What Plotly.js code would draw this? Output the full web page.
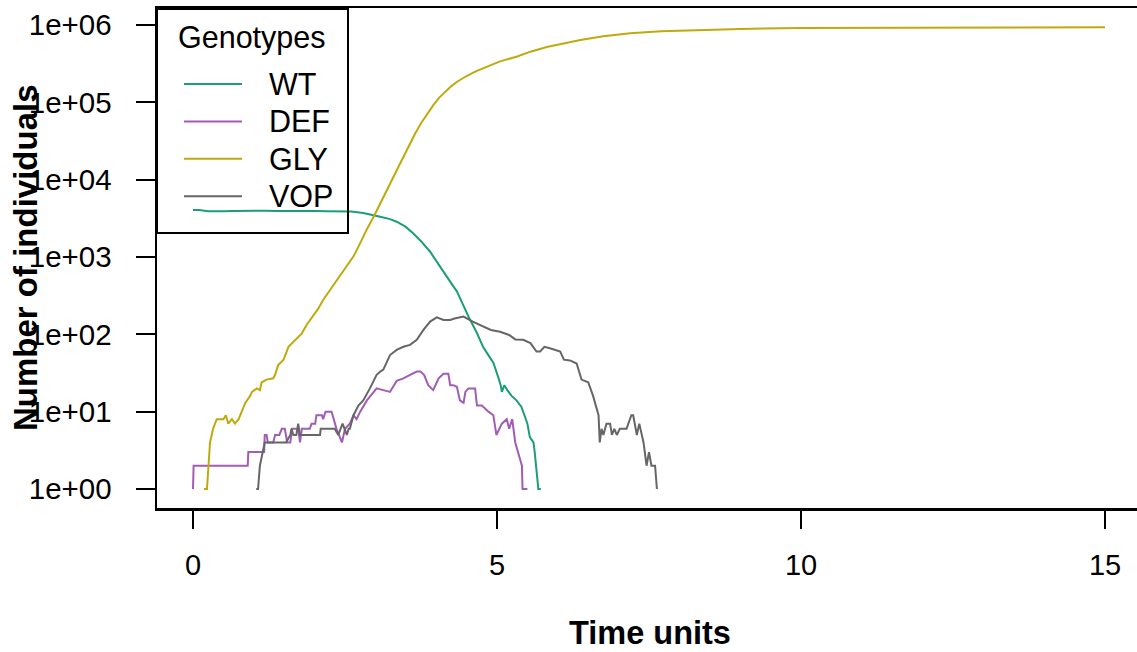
<!DOCTYPE html>
<html>
<head>
<meta charset="utf-8">
<script src="https://cdn.plot.ly/plotly-3.0.1.min.js"></script>
<style>html,body{margin:0;padding:0;background:#fff;}#chart{width:1137px;height:652px;}</style>
</head>
<body>
<div id="chart"></div>
<script>
// ---- Data ----
const genotypes = ['WT', 'DEF', 'GLY', 'VOP'];
const genotypeColors = ['#1B9E77', '#A15CB6', '#BFAA0E', '#666666'];

const wtTime = [0, 0.1, 0.25, 0.4, 0.5, 0.65, 0.8, 1.0, 1.2, 1.4, 1.6, 1.8, 2.0, 2.2, 2.4, 2.6, 2.8, 2.95, 3.08, 3.24, 3.35, 3.5, 3.62, 3.75, 3.9, 4.05, 4.17, 4.28, 4.34, 4.39, 4.46, 4.53, 4.6, 4.67, 4.72, 4.77, 4.85, 4.94, 5.02, 5.06, 5.08, 5.12, 5.17, 5.24, 5.32, 5.4, 5.46, 5.5, 5.54, 5.6, 5.62, 5.64, 5.68, 5.72];
const wtCount = [4050, 4060, 3900, 3870, 3900, 3930, 3950, 3940, 3960, 3930, 3950, 3920, 3940, 3910, 3890, 3870, 3700, 3530, 3320, 3090, 2860, 2450, 2030, 1600, 1170, 780, 556, 420, 360, 290, 225, 170, 135, 104, 85, 69, 55, 43, 28, 22, 18, 22, 19, 16, 14, 11.6, 8.6, 7, 4.7, 4, 3, 2, 1, 1];

const defTime = [0, 0.01, 0.9, 0.91, 1.17, 1.18, 1.21, 1.23, 1.32, 1.35, 1.42, 1.46, 1.51, 1.55, 1.6, 1.63, 1.73, 1.76, 1.79, 1.92, 1.95, 2.01, 2.03, 2.12, 2.14, 2.18, 2.28, 2.32, 2.36, 2.45, 2.5, 2.58, 2.64, 2.69, 2.75, 2.86, 2.94, 3.02, 3.13, 3.24, 3.35, 3.46, 3.57, 3.68, 3.74, 3.8, 3.87, 3.95, 4.04, 4.12, 4.2, 4.23, 4.28, 4.34, 4.39, 4.45, 4.48, 4.53, 4.64, 4.67, 4.75, 4.8, 4.86, 4.94, 4.99, 5.08, 5.16, 5.2, 5.25, 5.3, 5.35, 5.41, 5.42, 5.5];
const defCount = [1, 2, 2, 3, 3, 5, 5, 4, 4, 5, 5, 6, 6, 4, 4, 6, 6, 4, 6, 6, 7, 7, 9, 9, 8, 10, 10, 8, 6, 4, 6, 7, 9, 8, 10, 14, 17, 20, 19, 18, 25, 27, 30, 33, 33, 30, 22, 19, 27, 31, 31, 22, 22, 21, 14, 13, 18, 20, 20, 12, 12, 11, 10, 9, 5, 7, 8, 6, 8, 4, 3, 2, 1, 1];

const glyTime = [0.18, 0.23, 0.28, 0.33, 0.39, 0.45, 0.5, 0.54, 0.58, 0.64, 0.69, 0.75, 0.8, 0.86, 0.94, 0.97, 1.05, 1.1, 1.13, 1.21, 1.32, 1.35, 1.4, 1.49, 1.57, 1.65, 1.72, 1.79, 1.87, 1.98, 2.06, 2.14, 2.3, 2.45, 2.64, 2.75, 2.86, 2.99, 3.08, 3.19, 3.3, 3.4, 3.5, 3.58, 3.65, 3.75, 3.85, 3.95, 4.05, 4.15, 4.25, 4.35, 4.5, 4.65, 4.83, 5.05, 5.32, 5.55, 5.82, 6.1, 6.37, 6.75, 7.19, 7.7, 8.28, 9, 10, 12, 15];
const glyCount = [1, 1, 4, 6, 8, 8, 8, 9, 7, 8, 7, 8, 10, 13, 16, 18, 20, 19, 24, 26, 27, 30, 40, 47, 69, 80, 90, 103, 133, 178, 215, 278, 420, 615, 1020, 1510, 2290, 3550, 5000, 7400, 11000, 15800, 22900, 30200, 38900, 53700, 70800, 91200, 115000, 138000, 162000, 186000, 219000, 251000, 288000, 339000, 389000, 452000, 519000, 582000, 640000, 716000, 782000, 832000, 863000, 891000, 912000, 927000, 933000];

const vopTime = [1.04, 1.07, 1.1, 1.15, 1.18, 1.53, 1.6, 1.62, 1.65, 1.7, 1.73, 1.76, 2.09, 2.1, 2.33, 2.39, 2.46, 2.53, 2.56, 2.58, 2.64, 2.72, 2.8, 2.91, 3.02, 3.08, 3.13, 3.24, 3.35, 3.46, 3.57, 3.68, 3.79, 3.9, 4.01, 4.12, 4.23, 4.3, 4.4, 4.45, 4.6, 4.77, 4.9, 5.05, 5.2, 5.3, 5.43, 5.55, 5.65, 5.71, 5.78, 5.87, 6.04, 6.1, 6.2, 6.31, 6.35, 6.39, 6.5, 6.58, 6.67, 6.69, 6.72, 6.75, 6.8, 6.86, 6.89, 6.93, 6.97, 7.02, 7.13, 7.21, 7.24, 7.27, 7.3, 7.34, 7.41, 7.46, 7.5, 7.54, 7.6, 7.63];
const vopCount = [1, 1, 2, 3, 4, 4, 5, 6, 5, 5, 7, 5, 5, 6, 6, 5, 7, 5, 6, 6, 9, 12, 14, 20, 30, 33, 35, 54, 63, 69, 73, 85, 114, 146, 166, 153, 153, 160, 168, 170, 146, 126, 114, 108, 98, 86, 85, 77, 60, 60, 69, 66, 60, 47, 46, 42, 33, 26, 24, 16, 9, 4, 6, 5, 7, 7, 5, 6, 5, 6, 6, 9, 9, 7, 5, 7, 4, 2, 3, 2, 2, 1];

const xTickVals = [0, 5, 10, 15];
const yTickVals = [1, 10, 100, 1000, 10000, 100000, 1000000];
const yTickText = ['1e+00', '1e+01', '1e+02', '1e+03', '1e+04', '1e+05', '1e+06'];
const xTitle = 'Time units';
const yTitle = 'Number of individuals';
const legendTitle = 'Genotypes';

// ---- Layout geometry ----
const W = 1137, H = 652;
const M = {l: 157, r: 0, t: 8, b: 144};
const plotW = W - M.l - M.r, plotH = H - M.t - M.b;
const px2x = p => (p - M.l) / plotW;
const py2y = p => (H - M.b - p) / plotH;
const FONT = 'Liberation Sans, Arial, Helvetica, sans-serif';

const seriesT = [wtTime, defTime, glyTime, vopTime];
const seriesV = [wtCount, defCount, glyCount, vopCount];
const traces = genotypes.map((g, i) => ({
  x: seriesT[i], y: seriesV[i], name: g, type: 'scatter', mode: 'lines',
  line: {color: genotypeColors[i], width: 2}, showlegend: false
}));

// Manual R-style legend
const shapes = [{
  type: 'rect', xref: 'paper', yref: 'paper',
  x0: px2x(157), x1: px2x(348), y0: py2y(233), y1: py2y(9),
  line: {color: 'black', width: 2}, fillcolor: 'rgba(255,255,255,0)'
}];
const annotations = [{
  xref: 'paper', yref: 'paper', x: px2x(252), y: py2y(37), text: legendTitle,
  showarrow: false, xanchor: 'center', yanchor: 'middle', font: {family: FONT, size: 30.5, color: 'black'}
}];
genotypes.forEach((g, i) => {
  const yy = 84 + 37.4 * i;
  shapes.push({type: 'line', xref: 'paper', yref: 'paper', x0: px2x(184), x1: px2x(242), y0: py2y(yy), y1: py2y(yy),
    line: {color: genotypeColors[i], width: 2}});
  annotations.push({xref: 'paper', yref: 'paper', x: px2x(267), y: py2y(yy), text: g, showarrow: false,
    xanchor: 'left', yanchor: 'middle', font: {family: FONT, size: 30.5, color: 'black'}});
});
annotations.push({xref: 'paper', yref: 'paper', x: px2x(650), y: py2y(633), text: '<b>' + xTitle + '</b>',
  showarrow: false, xanchor: 'center', yanchor: 'middle', font: {family: FONT, size: 32.5, color: 'black'}});
annotations.push({xref: 'paper', yref: 'paper', x: px2x(25), y: 0.5, text: '<b>' + yTitle + '</b>', textangle: -90,
  showarrow: false, xanchor: 'center', yanchor: 'middle', font: {family: FONT, size: 33, color: 'black'}});

const pxPerDec = (489 - 25) / 6;
const layout = {
  width: W, height: H, margin: M,
  paper_bgcolor: 'white', plot_bgcolor: 'white',
  font: {family: FONT, size: 29, color: 'black'},
  showlegend: false,
  xaxis: {
    range: [-(193 - M.l) / 60.8, (W - M.r - 193) / 60.8],
    tickvals: xTickVals, ticks: 'outside', ticklen: 18, tickwidth: 2, tickcolor: 'black',
    showline: true, linewidth: 2.5, linecolor: 'black', mirror: true,
    showgrid: false, zeroline: false, tickfont: {family: FONT, size: 29, color: 'black'},
    ticklabelstandoff: 12
  },
  yaxis: {
    type: 'log',
    range: [-(H - M.b - 489) / pxPerDec, (489 - M.t) / pxPerDec],
    tickvals: yTickVals, ticktext: yTickText, ticks: 'outside', ticklen: 19, tickwidth: 2, tickcolor: 'black',
    showline: true, linewidth: 2.5, linecolor: 'black', mirror: true,
    showgrid: false, zeroline: false, tickfont: {family: FONT, size: 29.5, color: 'black'},
    ticklabelstandoff: 18
  },
  shapes: shapes,
  annotations: annotations
};
Plotly.newPlot('chart', traces, layout, {displayModeBar: false, staticPlot: true});
</script>
</body>
</html>
